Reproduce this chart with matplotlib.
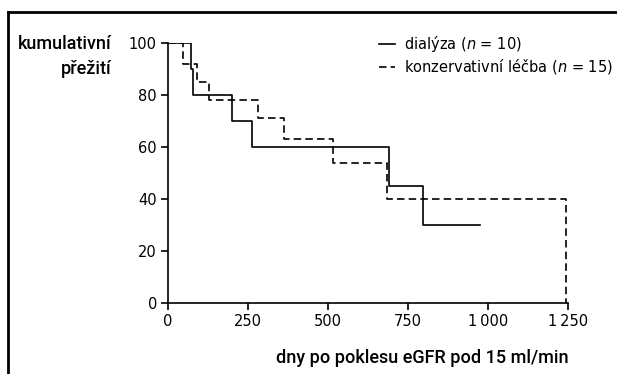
import matplotlib
matplotlib.use('Agg')
import matplotlib.pyplot as plt
from matplotlib.lines import Line2D

plt.rcParams['font.family'] = ['DejaVu Sans']
plt.rcParams['mathtext.fontset'] = 'dejavusans'

# Kaplan-Meier steps (days, % surviving)
dialysis_days = [0, 72, 77, 199, 263, 691, 796, 976]
dialysis_surv = [100, 90, 80, 70, 60, 45, 30, 30]

conserv_days = [0, 46, 90, 129, 280, 362, 515, 685, 1243]
conserv_surv = [100, 92, 85, 78, 71, 63, 54, 40, 0]

x_ticks = [0, 250, 500, 750, 1000, 1250]
x_tick_labels = ['0', '250', '500', '750', '1\u2009000', '1\u2009250']
y_ticks = [0, 20, 40, 60, 80, 100]

fig = plt.figure(figsize=(6.17, 3.74), dpi=100)
ax = fig.add_axes([0.2723, 0.1898, 0.6483, 0.6952])

ax.step(dialysis_days, dialysis_surv, where='post', color='black', lw=1.2,
        label='dialýza ($n$ = 10)')
ax.step(conserv_days, conserv_surv, where='post', color='black', lw=1.2,
        dashes=(4.5, 2.5), label='konzervativní léčba ($n$ = 15)')

ax.set_xlim(0, 1250)
ax.set_ylim(0, 100)
ax.set_xticks(x_ticks)
ax.set_xticklabels(x_tick_labels)
ax.set_yticks(y_ticks)
for s in ['top', 'right']:
    ax.spines[s].set_visible(False)
for s in ['left', 'bottom']:
    ax.spines[s].set_linewidth(1.2)
ax.tick_params(direction='out', length=5, width=1.2, labelsize=10.5, pad=3)

label_font = dict(family='Roboto', fontweight='medium', fontsize=13)
fig.text(112 / 617, 1 - 44 / 374, 'kumulativní', ha='right', va='center', **label_font)
fig.text(112 / 617, 1 - 69 / 374, 'přežití', ha='right', va='center', **label_font)
fig.text(569 / 617, 1 - 358 / 374, 'dny po poklesu eGFR pod 15 ml/min', ha='right',
         va='center', **label_font)

ax.legend(loc='upper right', bbox_to_anchor=(620 / 617, 1 - 27 / 374),
          bbox_transform=fig.transFigure, frameon=False, fontsize=10.5,
          handlelength=1.1, handletextpad=0.6, labelspacing=0.2, borderpad=0)

# figure frame: top and left edge
fig.add_artist(Line2D([8 / 617, 1], [1 - 12 / 374, 1 - 12 / 374], color='black', lw=2,
                      transform=fig.transFigure))
fig.add_artist(Line2D([8 / 617, 8 / 617], [0, 1 - 12 / 374], color='black', lw=2,
                      transform=fig.transFigure))

fig.savefig('out.png', dpi=100)
